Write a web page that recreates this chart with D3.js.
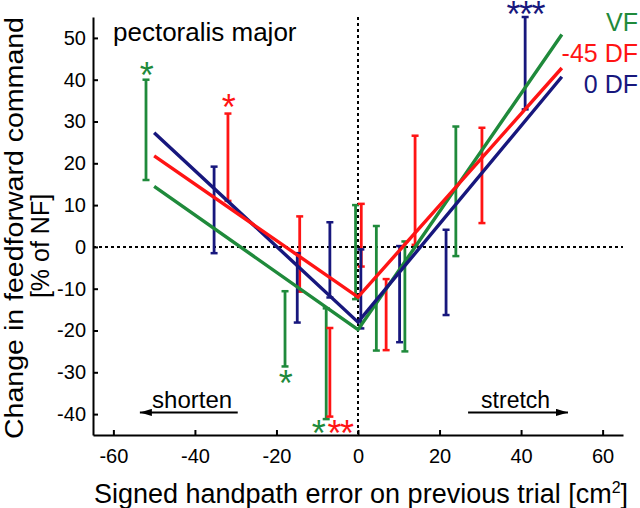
<!DOCTYPE html>
<html>

<head>
  <meta charset="utf-8">
  <script src="https://d3js.org/d3.v7.min.js"></script>
  <style>
    body {
      margin: 0;
      background: #fff;
    }

    svg text {
      font-family: "Liberation Sans", Arial, sans-serif;
    }
  </style>
</head>

<body>
  <div id="chart"></div>

  <script>
    // tick values
    var xTicks = [-60, -40, -20, 0, 20, 40, 60];
    var yTicks = [-40, -30, -20, -10, 0, 10, 20, 30, 40, 50];

    // series names and colours
    var seriesNames = ['VF', '-45 DF', '0 DF'];
    var seriesColors = ['#1f8a3b', '#ff1414', '#17177d'];

    // error bars per series: [x, low, high]
    var barsVF = [[-52, 16, 40], [-17.9, -28.6, -10.6], [-7.8, -41.2, -14.7], [-0.6, -12.5, 10],
      [4.5, -24.8, 5], [11.5, -25, 1.3], [24, -2.2, 28.8]];
    var bars45DF = [[-31.9, 11, 31.9], [-14.3, -10.7, 7.3], [-6.9, -40.6, -19.4], [0.8, -4.7, 10.3],
      [6.9, -24.7, -7.7], [14, 0.5, 26.6], [30.4, 5.7, 28.5]];
    var bars0DF = [[-35.3, -1.5, 19.2], [-14.9, -18.1, -1.5], [-6.9, -12.1, 5.9], [0.7, -19.5, -0.6],
      [10.2, -22.8, 0.2], [21.6, -16.3, 4.1], [41, 32.9, 55]];

    // fitted V lines per series: [x, y] points
    var fitVF = [[-50, 14.5], [0, -19.8], [50, 50.8]];
    var fit45DF = [[-50, 21.8], [0, -12], [50, 42.8]];
    var fit0DF = [[-50, 27.3], [0, -18], [50, 40.7]];

    // significance stars: series index, x, y, count
    var stars = [
      { s: 0, x: -52, y: 42.9, n: 1 },
      { s: 1, x: -31.9, y: 35.3, n: 1 },
      { s: 2, x: 41, y: 57.6, n: 3 },
      { s: 0, x: -17.9, y: -30.7, n: 1 },
      { s: 0, x: -9.8, y: -42.7, n: 1 },
      { s: 1, x: -4.4, y: -42.7, n: 2 }
    ];

    var W = 640, H = 508;
    var x = d3.scaleLinear().domain([-65, 65]).range([93, 623]);
    var y = d3.scaleLinear().domain([-45, 55]).range([435, 17]);

    var svg = d3.select('#chart').append('svg')
      .attr('width', W)
      .attr('height', H);

    // dotted zero lines
    svg.append('line')
      .attr('x1', x(-65)).attr('x2', x(65))
      .attr('y1', y(0)).attr('y2', y(0))
      .attr('stroke', '#000').attr('stroke-width', 2)
      .attr('stroke-dasharray', '3,3');
    svg.append('line')
      .attr('x1', x(0)).attr('x2', x(0))
      .attr('y1', y(55)).attr('y2', y(-45))
      .attr('stroke', '#000').attr('stroke-width', 2)
      .attr('stroke-dasharray', '3,3');

    // axes, ticks inward
    svg.append('g')
      .attr('transform', 'translate(' + x(-65) + ',0)')
      .call(d3.axisLeft(y).tickValues(yTicks).tickFormat(d => String(d))
        .tickSizeInner(-5).tickSizeOuter(0).tickPadding(7));
    svg.append('g')
      .attr('transform', 'translate(0,' + y(-45) + ')')
      .call(d3.axisBottom(x).tickValues(xTicks).tickFormat(d => String(d))
        .tickSizeInner(-5).tickSizeOuter(0).tickPadding(14));

    svg.selectAll('.domain').attr('stroke', '#000').attr('stroke-width', 2);
    svg.selectAll('.tick line').attr('stroke', '#000').attr('stroke-width', 2);
    svg.selectAll('.tick text')
      .attr('fill', '#000')
      .style('font-size', '20px')
      .style('font-family', '"Liberation Sans", Arial, sans-serif');

    // error bars
    var allBars = [barsVF, bars45DF, bars0DF];
    allBars.forEach(function (bars, i) {
      var g = svg.append('g').attr('stroke', seriesColors[i]);
      g.selectAll('line.v').data(bars).enter().append('line')
        .attr('x1', d => x(d[0])).attr('x2', d => x(d[0]))
        .attr('y1', d => y(d[1])).attr('y2', d => y(d[2]))
        .attr('stroke-width', 2.8);
      g.selectAll('line.lo').data(bars).enter().append('line')
        .attr('x1', d => x(d[0]) - 3.5).attr('x2', d => x(d[0]) + 3.5)
        .attr('y1', d => y(d[1])).attr('y2', d => y(d[1]))
        .attr('stroke-width', 2.5);
      g.selectAll('line.hi').data(bars).enter().append('line')
        .attr('x1', d => x(d[0]) - 3.5).attr('x2', d => x(d[0]) + 3.5)
        .attr('y1', d => y(d[2])).attr('y2', d => y(d[2]))
        .attr('stroke-width', 2.5);
    });

    // fitted lines (green, blue, red on top)
    var line = d3.line().x(d => x(d[0])).y(d => y(d[1]));
    var allFits = [fitVF, fit45DF, fit0DF];
    [0, 2, 1].forEach(function (i) {
      svg.append('path')
        .attr('d', line(allFits[i]))
        .attr('fill', 'none')
        .attr('stroke', seriesColors[i])
        .attr('stroke-width', 3.4);
    });

    // stars
    svg.selectAll('text.star').data(stars).enter().append('text')
      .attr('class', 'star')
      .attr('x', d => x(d.x))
      .attr('y', d => y(d.y) + 20.5)
      .attr('text-anchor', 'middle')
      .attr('fill', d => seriesColors[d.s])
      .style('font-size', '36px')
      .style('letter-spacing', '-1.5px')
      .text(d => '*'.repeat(d.n));

    // title
    svg.append('text')
      .attr('x', 113).attr('y', 41)
      .style('font-size', '26px')
      .text('pectoralis major');

    // legend
    svg.selectAll('text.legend').data(seriesNames).enter().append('text')
      .attr('class', 'legend')
      .attr('x', 638)
      .attr('y', (d, i) => 31 + i * 31)
      .attr('text-anchor', 'end')
      .attr('fill', (d, i) => seriesColors[i])
      .style('font-size', '25px')
      .text(d => d);

    // shorten / stretch arrows
    var arrowY = y(-39.6);
    svg.append('defs').append('marker')
      .attr('id', 'arrowhead')
      .attr('viewBox', '0 0 10 6')
      .attr('refX', 10).attr('refY', 3)
      .attr('markerWidth', 6).attr('markerHeight', 3.6)
      .attr('markerUnits', 'strokeWidth')
      .attr('orient', 'auto')
      .append('path').attr('d', 'M0,0L10,3L0,6Z').attr('fill', '#000');

    svg.append('line')
      .attr('x1', x(-29.5)).attr('x2', x(-53.5))
      .attr('y1', arrowY).attr('y2', arrowY)
      .attr('stroke', '#000').attr('stroke-width', 2)
      .attr('marker-end', 'url(#arrowhead)');
    svg.append('line')
      .attr('x1', x(27)).attr('x2', x(51.5))
      .attr('y1', arrowY).attr('y2', arrowY)
      .attr('stroke', '#000').attr('stroke-width', 2)
      .attr('marker-end', 'url(#arrowhead)');

    svg.append('text')
      .attr('x', x(-50.5)).attr('y', arrowY - 4)
      .style('font-size', '24px')
      .text('shorten');
    svg.append('text')
      .attr('x', x(30.2)).attr('y', arrowY - 4)
      .style('font-size', '23px')
      .text('stretch');

    // axis titles
    var xLabel = svg.append('text')
      .attr('x', 361).attr('y', 503)
      .attr('text-anchor', 'middle')
      .style('font-size', '27px')
      .text('Signed handpath error on previous trial [cm');
    xLabel.append('tspan')
      .attr('dy', -10)
      .style('font-size', '16px')
      .text('2');
    xLabel.append('tspan')
      .attr('dy', 10)
      .text(']');

    svg.append('text')
      .attr('transform', 'translate(22.5,228) rotate(-90)')
      .attr('text-anchor', 'middle')
      .attr('textLength', 422)
      .attr('lengthAdjust', 'spacingAndGlyphs')
      .style('font-size', '25px')
      .text('Change in feedforward command');
    svg.append('text')
      .attr('transform', 'translate(49,246) rotate(-90)')
      .attr('text-anchor', 'middle')
      .style('font-size', '25px')
      .text('[% of NF]');
  </script>
</body>


</html>
